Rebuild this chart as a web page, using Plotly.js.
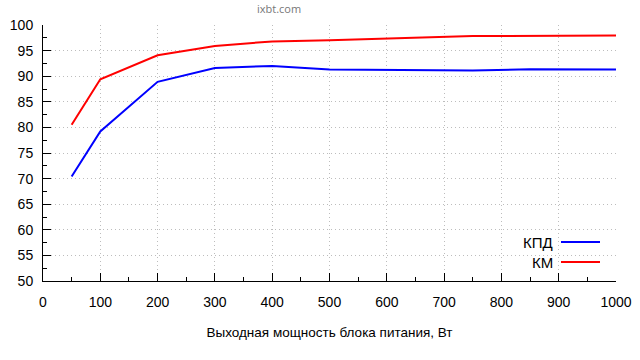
<!DOCTYPE html>
<html><head><meta charset="utf-8">
<script src="https://cdn.plot.ly/plotly-3.0.1.min.js"></script>
<style>html,body{margin:0;padding:0;background:#fff}#c{width:640px;height:360px}</style>
</head><body><div id="c"></div>
<script>
const power = [50, 100, 200, 300, 400, 500, 750, 850, 1000];
const kpd = [70.4, 79.2, 88.9, 91.6, 92.0, 91.3, 91.1, 91.35, 91.3];
const km = [80.5, 89.4, 94.1, 95.9, 96.8, 97.0, 97.85, 97.9, 97.95];
const seriesNames = ['КПД', 'КМ'];
const seriesColors = ['#0000ff', '#ff0000'];
const xTicks = [0,100,200,300,400,500,600,700,800,900,1000];
const yTicks = [50,55,60,65,70,75,80,85,90,95,100];

const F = 'Liberation Sans, Arial, sans-serif';
const traces = [kpd, km].map((v, i) => ({
  x: power, y: v, type: 'scatter', mode: 'lines', name: seriesNames[i],
  line: {color: seriesColors[i], width: 2}, showlegend: false
}));

const annotations = [
  {text: 'ixbt.com', xref: 'paper', yref: 'paper', x: 0.412, y: 1, yanchor: 'middle', yshift: 17, showarrow: false,
   font: {family: 'Open Sans, sans-serif', size: 11, color: '#777'}},
];
const shapes = [];
seriesNames.forEach((n, i) => {
  const yp = 1 - (242 + i * 20 - 25) / 256;
  annotations.push({text: n, xref: 'paper', yref: 'paper', x: (555 - 43) / 573, y: yp,
    xanchor: 'right', yanchor: 'middle', showarrow: false, font: {family: F, size: 15, color: '#000'}});
  shapes.push({type: 'line', xref: 'paper', yref: 'paper', x0: (561 - 43) / 573, x1: (600 - 43) / 573,
    y0: yp, y1: yp, line: {color: seriesColors[i], width: 2}});
});

const grid = {showgrid: true, gridcolor: '#bdbdbd', griddash: '1px,3px', gridwidth: 1, zeroline: false};
const layout = {
  width: 640, height: 360,
  margin: {l: 43, r: 24, t: 25, b: 79},
  paper_bgcolor: '#fff', plot_bgcolor: '#fff',
  xaxis: Object.assign({range: [0, 1000], tickvals: xTicks, ticktext: xTicks.map(String),
    ticks: 'inside', ticklen: 8, tickcolor: '#000', tickwidth: 1, ticklabelstandoff: 8,
    minor: {dtick: 50, ticks: 'inside', ticklen: 4, tickcolor: '#000', showgrid: false},
    showline: true, linecolor: '#000', linewidth: 1,
    tickfont: {family: F, size: 14, color: '#000'},
    title: {text: 'Выходная мощность блока питания, Вт', font: {family: F, size: 13.5, color: '#000'}, standoff: 18}}, grid),
  yaxis: Object.assign({range: [50, 100], tickvals: yTicks, ticktext: yTicks.map(String),
    ticks: 'inside', ticklen: 8, tickcolor: '#000', tickwidth: 1, ticklabelstandoff: 6,
    minor: {dtick: 2.5, ticks: 'inside', ticklen: 4, tickcolor: '#000', showgrid: false},
    showline: true, linecolor: '#000', linewidth: 1,
    tickfont: {family: F, size: 14, color: '#000'}}, grid),
  annotations, shapes
};
Plotly.newPlot('c', traces, layout, {staticPlot: true});
</script></body></html>
